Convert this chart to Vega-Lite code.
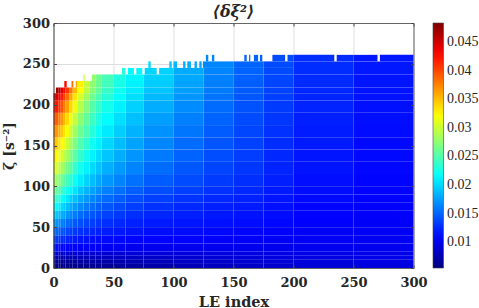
{"$schema":"https://vega.github.io/schema/vega-lite/v6.json","width":360,"height":245,"autosize":{"type":"none"},"padding":{"left":53.5,"top":23,"right":65.5,"bottom":40},"background":"white","config":{"view":{"stroke":null},"legend":{"labelFont":"Liberation Serif","labelFontSize":14,"labelColor":"#262626"},"axis":{"labelFont":"DejaVu Serif","labelFontWeight":"bold","labelFontSize":13,"labelColor":"#262626","titleFont":"DejaVu Serif","titleFontWeight":"bold","titleColor":"#262626","labelFlush":false}},"title":{"text":"⟨δξ²⟩","font":"DejaVu Serif","fontWeight":"bold","fontStyle":"italic","fontSize":16,"color":"#262626","offset":-3,"anchor":"middle"},"data":{"values":[
{"a":0,"b":2,"c":0,"d":5,"v":0.0058},{"a":0,"b":2,"c":5,"d":10,"v":0.0064},{"a":0,"b":2,"c":10,"d":15,"v":0.0076},{"a":0,"b":2,"c":15,"d":20,"v":0.009},{"a":0,"b":2,"c":20,"d":30,"v":0.0115},{"a":0,"b":2,"c":30,"d":40,"v":0.0135},{"a":0,"b":2,"c":40,"d":50,"v":0.0155},{"a":0,"b":2,"c":50,"d":60,"v":0.0175},{"a":0,"b":2,"c":60,"d":70,"v":0.0197},{"a":0,"b":2,"c":70,"d":80,"v":0.022},{"a":0,"b":2,"c":80,"d":90,"v":0.0243},{"a":0,"b":2,"c":90,"d":100,"v":0.0265},{"a":0,"b":2,"c":100,"d":115,"v":0.0288},{"a":0,"b":2,"c":115,"d":130,"v":0.0312},{"a":0,"b":2,"c":130,"d":145,"v":0.0332},{"a":0,"b":2,"c":145,"d":160,"v":0.0352},{"a":0,"b":2,"c":160,"d":175,"v":0.0373},{"a":0,"b":2,"c":175,"d":190,"v":0.0397},{"a":0,"b":2,"c":190,"d":205,"v":0.0427},{"a":0,"b":2,"c":205,"d":214,"v":0.0452},
{"a":2,"b":4,"c":0,"d":5,"v":0.0058},{"a":2,"b":4,"c":5,"d":10,"v":0.0064},{"a":2,"b":4,"c":10,"d":15,"v":0.0076},{"a":2,"b":4,"c":15,"d":20,"v":0.009},{"a":2,"b":4,"c":20,"d":30,"v":0.0114},{"a":2,"b":4,"c":30,"d":40,"v":0.0133},{"a":2,"b":4,"c":40,"d":50,"v":0.0152},{"a":2,"b":4,"c":50,"d":60,"v":0.0171},{"a":2,"b":4,"c":60,"d":70,"v":0.0193},{"a":2,"b":4,"c":70,"d":80,"v":0.0214},{"a":2,"b":4,"c":80,"d":90,"v":0.0236},{"a":2,"b":4,"c":90,"d":100,"v":0.0257},{"a":2,"b":4,"c":100,"d":115,"v":0.028},{"a":2,"b":4,"c":115,"d":130,"v":0.0305},{"a":2,"b":4,"c":130,"d":145,"v":0.0324},{"a":2,"b":4,"c":145,"d":160,"v":0.0344},{"a":2,"b":4,"c":160,"d":175,"v":0.0366},{"a":2,"b":4,"c":175,"d":190,"v":0.039},{"a":2,"b":4,"c":190,"d":205,"v":0.042},{"a":2,"b":4,"c":205,"d":214,"v":0.0446},{"a":2,"b":4,"c":214,"d":221,"v":0.0472},
{"a":4,"b":6,"c":0,"d":5,"v":0.0058},{"a":4,"b":6,"c":5,"d":10,"v":0.0064},{"a":4,"b":6,"c":10,"d":15,"v":0.0076},{"a":4,"b":6,"c":15,"d":20,"v":0.0089},{"a":4,"b":6,"c":20,"d":30,"v":0.0112},{"a":4,"b":6,"c":30,"d":40,"v":0.013},{"a":4,"b":6,"c":40,"d":50,"v":0.0148},{"a":4,"b":6,"c":50,"d":60,"v":0.0167},{"a":4,"b":6,"c":60,"d":70,"v":0.0187},{"a":4,"b":6,"c":70,"d":80,"v":0.0207},{"a":4,"b":6,"c":80,"d":90,"v":0.0228},{"a":4,"b":6,"c":90,"d":100,"v":0.0248},{"a":4,"b":6,"c":100,"d":115,"v":0.027},{"a":4,"b":6,"c":115,"d":130,"v":0.0295},{"a":4,"b":6,"c":130,"d":145,"v":0.0315},{"a":4,"b":6,"c":145,"d":160,"v":0.0334},{"a":4,"b":6,"c":160,"d":175,"v":0.0356},{"a":4,"b":6,"c":175,"d":190,"v":0.0378},{"a":4,"b":6,"c":190,"d":205,"v":0.0407},{"a":4,"b":6,"c":205,"d":214,"v":0.0434},{"a":4,"b":6,"c":214,"d":221,"v":0.0458},
{"a":6,"b":8,"c":0,"d":5,"v":0.0059},{"a":6,"b":8,"c":5,"d":10,"v":0.0064},{"a":6,"b":8,"c":10,"d":15,"v":0.0076},{"a":6,"b":8,"c":15,"d":20,"v":0.0088},{"a":6,"b":8,"c":20,"d":30,"v":0.0111},{"a":6,"b":8,"c":30,"d":40,"v":0.0127},{"a":6,"b":8,"c":40,"d":50,"v":0.0144},{"a":6,"b":8,"c":50,"d":60,"v":0.0162},{"a":6,"b":8,"c":60,"d":70,"v":0.0181},{"a":6,"b":8,"c":70,"d":80,"v":0.02},{"a":6,"b":8,"c":80,"d":90,"v":0.0219},{"a":6,"b":8,"c":90,"d":100,"v":0.0239},{"a":6,"b":8,"c":100,"d":115,"v":0.0261},{"a":6,"b":8,"c":115,"d":130,"v":0.0285},{"a":6,"b":8,"c":130,"d":145,"v":0.0305},{"a":6,"b":8,"c":145,"d":160,"v":0.0324},{"a":6,"b":8,"c":160,"d":175,"v":0.0345},{"a":6,"b":8,"c":175,"d":190,"v":0.0366},{"a":6,"b":8,"c":190,"d":205,"v":0.0394},{"a":6,"b":8,"c":205,"d":214,"v":0.042},{"a":6,"b":8,"c":214,"d":221,"v":0.0442},
{"a":8,"b":10,"c":0,"d":5,"v":0.0059},{"a":8,"b":10,"c":5,"d":10,"v":0.0065},{"a":8,"b":10,"c":10,"d":15,"v":0.0076},{"a":8,"b":10,"c":15,"d":20,"v":0.0088},{"a":8,"b":10,"c":20,"d":30,"v":0.011},{"a":8,"b":10,"c":30,"d":40,"v":0.0125},{"a":8,"b":10,"c":40,"d":50,"v":0.0141},{"a":8,"b":10,"c":50,"d":60,"v":0.0158},{"a":8,"b":10,"c":60,"d":70,"v":0.0176},{"a":8,"b":10,"c":70,"d":80,"v":0.0194},{"a":8,"b":10,"c":80,"d":90,"v":0.0212},{"a":8,"b":10,"c":90,"d":100,"v":0.0231},{"a":8,"b":10,"c":100,"d":115,"v":0.0252},{"a":8,"b":10,"c":115,"d":130,"v":0.0275},{"a":8,"b":10,"c":130,"d":145,"v":0.0294},{"a":8,"b":10,"c":145,"d":160,"v":0.0314},{"a":8,"b":10,"c":160,"d":175,"v":0.0334},{"a":8,"b":10,"c":175,"d":190,"v":0.0354},{"a":8,"b":10,"c":190,"d":205,"v":0.038},{"a":8,"b":10,"c":205,"d":214,"v":0.0404},{"a":8,"b":10,"c":214,"d":221,"v":0.0427},
{"a":10,"b":13,"c":0,"d":5,"v":0.0059},{"a":10,"b":13,"c":5,"d":10,"v":0.0065},{"a":10,"b":13,"c":10,"d":15,"v":0.0077},{"a":10,"b":13,"c":15,"d":20,"v":0.0088},{"a":10,"b":13,"c":20,"d":30,"v":0.0109},{"a":10,"b":13,"c":30,"d":40,"v":0.0123},{"a":10,"b":13,"c":40,"d":50,"v":0.0138},{"a":10,"b":13,"c":50,"d":60,"v":0.0154},{"a":10,"b":13,"c":60,"d":70,"v":0.0171},{"a":10,"b":13,"c":70,"d":80,"v":0.0188},{"a":10,"b":13,"c":80,"d":90,"v":0.0205},{"a":10,"b":13,"c":90,"d":100,"v":0.0223},{"a":10,"b":13,"c":100,"d":115,"v":0.0243},{"a":10,"b":13,"c":115,"d":130,"v":0.0264},{"a":10,"b":13,"c":130,"d":145,"v":0.0283},{"a":10,"b":13,"c":145,"d":160,"v":0.03},{"a":10,"b":13,"c":160,"d":175,"v":0.0319},{"a":10,"b":13,"c":175,"d":190,"v":0.0338},{"a":10,"b":13,"c":190,"d":205,"v":0.0362},{"a":10,"b":13,"c":205,"d":214,"v":0.0384},{"a":10,"b":13,"c":214,"d":221,"v":0.0407},
{"a":13,"b":16,"c":0,"d":5,"v":0.006},{"a":13,"b":16,"c":5,"d":10,"v":0.0066},{"a":13,"b":16,"c":10,"d":15,"v":0.0077},{"a":13,"b":16,"c":15,"d":20,"v":0.0088},{"a":13,"b":16,"c":20,"d":30,"v":0.0108},{"a":13,"b":16,"c":30,"d":40,"v":0.0121},{"a":13,"b":16,"c":40,"d":50,"v":0.0135},{"a":13,"b":16,"c":50,"d":60,"v":0.015},{"a":13,"b":16,"c":60,"d":70,"v":0.0166},{"a":13,"b":16,"c":70,"d":80,"v":0.0181},{"a":13,"b":16,"c":80,"d":90,"v":0.0197},{"a":13,"b":16,"c":90,"d":100,"v":0.0214},{"a":13,"b":16,"c":100,"d":115,"v":0.0232},{"a":13,"b":16,"c":115,"d":130,"v":0.0251},{"a":13,"b":16,"c":130,"d":145,"v":0.0268},{"a":13,"b":16,"c":145,"d":160,"v":0.0284},{"a":13,"b":16,"c":160,"d":175,"v":0.0301},{"a":13,"b":16,"c":175,"d":190,"v":0.0318},{"a":13,"b":16,"c":190,"d":205,"v":0.0339},{"a":13,"b":16,"c":205,"d":214,"v":0.0358},{"a":13,"b":16,"c":214,"d":221,"v":0.038},
{"a":16,"b":20,"c":0,"d":5,"v":0.0061},{"a":16,"b":20,"c":5,"d":10,"v":0.0067},{"a":16,"b":20,"c":10,"d":15,"v":0.0077},{"a":16,"b":20,"c":15,"d":20,"v":0.0088},{"a":16,"b":20,"c":20,"d":30,"v":0.0107},{"a":16,"b":20,"c":30,"d":40,"v":0.0119},{"a":16,"b":20,"c":40,"d":50,"v":0.0132},{"a":16,"b":20,"c":50,"d":60,"v":0.0146},{"a":16,"b":20,"c":60,"d":70,"v":0.016},{"a":16,"b":20,"c":70,"d":80,"v":0.0174},{"a":16,"b":20,"c":80,"d":90,"v":0.0189},{"a":16,"b":20,"c":90,"d":100,"v":0.0204},{"a":16,"b":20,"c":100,"d":115,"v":0.022},{"a":16,"b":20,"c":115,"d":130,"v":0.0237},{"a":16,"b":20,"c":130,"d":145,"v":0.0252},{"a":16,"b":20,"c":145,"d":160,"v":0.0267},{"a":16,"b":20,"c":160,"d":175,"v":0.0282},{"a":16,"b":20,"c":175,"d":190,"v":0.0297},{"a":16,"b":20,"c":190,"d":205,"v":0.0316},{"a":16,"b":20,"c":205,"d":214,"v":0.0333},{"a":16,"b":20,"c":214,"d":221,"v":0.0352},
{"a":20,"b":25,"c":0,"d":5,"v":0.0061},{"a":20,"b":25,"c":5,"d":10,"v":0.0068},{"a":20,"b":25,"c":10,"d":15,"v":0.0078},{"a":20,"b":25,"c":15,"d":20,"v":0.0088},{"a":20,"b":25,"c":20,"d":30,"v":0.0106},{"a":20,"b":25,"c":30,"d":40,"v":0.0117},{"a":20,"b":25,"c":40,"d":50,"v":0.0129},{"a":20,"b":25,"c":50,"d":60,"v":0.0142},{"a":20,"b":25,"c":60,"d":70,"v":0.0154},{"a":20,"b":25,"c":70,"d":80,"v":0.0167},{"a":20,"b":25,"c":80,"d":90,"v":0.018},{"a":20,"b":25,"c":90,"d":100,"v":0.0193},{"a":20,"b":25,"c":100,"d":115,"v":0.0208},{"a":20,"b":25,"c":115,"d":130,"v":0.0223},{"a":20,"b":25,"c":130,"d":145,"v":0.0237},{"a":20,"b":25,"c":145,"d":160,"v":0.0249},{"a":20,"b":25,"c":160,"d":175,"v":0.0261},{"a":20,"b":25,"c":175,"d":190,"v":0.0274},{"a":20,"b":25,"c":190,"d":205,"v":0.0291},{"a":20,"b":25,"c":205,"d":214,"v":0.0305},{"a":20,"b":25,"c":214,"d":221,"v":0.0322},
{"a":25,"b":30,"c":0,"d":5,"v":0.0062},{"a":25,"b":30,"c":5,"d":10,"v":0.0069},{"a":25,"b":30,"c":10,"d":15,"v":0.0079},{"a":25,"b":30,"c":15,"d":20,"v":0.0089},{"a":25,"b":30,"c":20,"d":30,"v":0.0105},{"a":25,"b":30,"c":30,"d":40,"v":0.0115},{"a":25,"b":30,"c":40,"d":50,"v":0.0126},{"a":25,"b":30,"c":50,"d":60,"v":0.0137},{"a":25,"b":30,"c":60,"d":70,"v":0.0148},{"a":25,"b":30,"c":70,"d":80,"v":0.016},{"a":25,"b":30,"c":80,"d":90,"v":0.0172},{"a":25,"b":30,"c":90,"d":100,"v":0.0184},{"a":25,"b":30,"c":100,"d":115,"v":0.0197},{"a":25,"b":30,"c":115,"d":130,"v":0.0211},{"a":25,"b":30,"c":130,"d":145,"v":0.0223},{"a":25,"b":30,"c":145,"d":160,"v":0.0235},{"a":25,"b":30,"c":160,"d":175,"v":0.0246},{"a":25,"b":30,"c":175,"d":190,"v":0.0257},{"a":25,"b":30,"c":190,"d":205,"v":0.027},{"a":25,"b":30,"c":205,"d":214,"v":0.0282},{"a":25,"b":30,"c":214,"d":221,"v":0.0294},
{"a":30,"b":35,"c":0,"d":5,"v":0.0063},{"a":30,"b":35,"c":5,"d":10,"v":0.007},{"a":30,"b":35,"c":10,"d":15,"v":0.008},{"a":30,"b":35,"c":15,"d":20,"v":0.0089},{"a":30,"b":35,"c":20,"d":30,"v":0.0104},{"a":30,"b":35,"c":30,"d":40,"v":0.0114},{"a":30,"b":35,"c":40,"d":50,"v":0.0124},{"a":30,"b":35,"c":50,"d":60,"v":0.0134},{"a":30,"b":35,"c":60,"d":70,"v":0.0144},{"a":30,"b":35,"c":70,"d":80,"v":0.0154},{"a":30,"b":35,"c":80,"d":90,"v":0.0165},{"a":30,"b":35,"c":90,"d":100,"v":0.0176},{"a":30,"b":35,"c":100,"d":115,"v":0.0188},{"a":30,"b":35,"c":115,"d":130,"v":0.02},{"a":30,"b":35,"c":130,"d":145,"v":0.0211},{"a":30,"b":35,"c":145,"d":160,"v":0.0221},{"a":30,"b":35,"c":160,"d":175,"v":0.0231},{"a":30,"b":35,"c":175,"d":190,"v":0.0241},{"a":30,"b":35,"c":190,"d":205,"v":0.0252},{"a":30,"b":35,"c":205,"d":214,"v":0.0262},{"a":30,"b":35,"c":214,"d":221,"v":0.0272},
{"a":35,"b":40,"c":0,"d":5,"v":0.0064},{"a":35,"b":40,"c":5,"d":10,"v":0.0071},{"a":35,"b":40,"c":10,"d":15,"v":0.0081},{"a":35,"b":40,"c":15,"d":20,"v":0.0089},{"a":35,"b":40,"c":20,"d":30,"v":0.0104},{"a":35,"b":40,"c":30,"d":40,"v":0.0113},{"a":35,"b":40,"c":40,"d":50,"v":0.0122},{"a":35,"b":40,"c":50,"d":60,"v":0.0131},{"a":35,"b":40,"c":60,"d":70,"v":0.014},{"a":35,"b":40,"c":70,"d":80,"v":0.0149},{"a":35,"b":40,"c":80,"d":90,"v":0.0159},{"a":35,"b":40,"c":90,"d":100,"v":0.0169},{"a":35,"b":40,"c":100,"d":115,"v":0.018},{"a":35,"b":40,"c":115,"d":130,"v":0.0191},{"a":35,"b":40,"c":130,"d":145,"v":0.0201},{"a":35,"b":40,"c":145,"d":160,"v":0.021},{"a":35,"b":40,"c":160,"d":175,"v":0.0219},{"a":35,"b":40,"c":175,"d":190,"v":0.0228},{"a":35,"b":40,"c":190,"d":205,"v":0.0238},{"a":35,"b":40,"c":205,"d":214,"v":0.0247},{"a":35,"b":40,"c":214,"d":221,"v":0.0256},
{"a":40,"b":50,"c":0,"d":5,"v":0.0065},{"a":40,"b":50,"c":5,"d":10,"v":0.0072},{"a":40,"b":50,"c":10,"d":15,"v":0.0082},{"a":40,"b":50,"c":15,"d":20,"v":0.009},{"a":40,"b":50,"c":20,"d":30,"v":0.0103},{"a":40,"b":50,"c":30,"d":40,"v":0.0112},{"a":40,"b":50,"c":40,"d":50,"v":0.012},{"a":40,"b":50,"c":50,"d":60,"v":0.0128},{"a":40,"b":50,"c":60,"d":70,"v":0.0136},{"a":40,"b":50,"c":70,"d":80,"v":0.0144},{"a":40,"b":50,"c":80,"d":90,"v":0.0153},{"a":40,"b":50,"c":90,"d":100,"v":0.0162},{"a":40,"b":50,"c":100,"d":115,"v":0.0172},{"a":40,"b":50,"c":115,"d":130,"v":0.0182},{"a":40,"b":50,"c":130,"d":145,"v":0.0191},{"a":40,"b":50,"c":145,"d":160,"v":0.0199},{"a":40,"b":50,"c":160,"d":175,"v":0.0207},{"a":40,"b":50,"c":175,"d":190,"v":0.0215},{"a":40,"b":50,"c":190,"d":205,"v":0.0224},{"a":40,"b":50,"c":205,"d":214,"v":0.0232},{"a":40,"b":50,"c":214,"d":221,"v":0.0239},
{"a":50,"b":60,"c":0,"d":5,"v":0.0067},{"a":50,"b":60,"c":5,"d":10,"v":0.0074},{"a":50,"b":60,"c":10,"d":15,"v":0.0083},{"a":50,"b":60,"c":15,"d":20,"v":0.0091},{"a":50,"b":60,"c":20,"d":30,"v":0.0103},{"a":50,"b":60,"c":30,"d":40,"v":0.0111},{"a":50,"b":60,"c":40,"d":50,"v":0.0118},{"a":50,"b":60,"c":50,"d":60,"v":0.0125},{"a":50,"b":60,"c":60,"d":70,"v":0.0132},{"a":50,"b":60,"c":70,"d":80,"v":0.0139},{"a":50,"b":60,"c":80,"d":90,"v":0.0147},{"a":50,"b":60,"c":90,"d":100,"v":0.0155},{"a":50,"b":60,"c":100,"d":115,"v":0.0164},{"a":50,"b":60,"c":115,"d":130,"v":0.0173},{"a":50,"b":60,"c":130,"d":145,"v":0.0181},{"a":50,"b":60,"c":145,"d":160,"v":0.0188},{"a":50,"b":60,"c":160,"d":175,"v":0.0195},{"a":50,"b":60,"c":175,"d":190,"v":0.0202},{"a":50,"b":60,"c":190,"d":205,"v":0.021},{"a":50,"b":60,"c":205,"d":214,"v":0.0216},{"a":50,"b":60,"c":214,"d":221,"v":0.0222},
{"a":60,"b":75,"c":0,"d":5,"v":0.0069},{"a":60,"b":75,"c":5,"d":10,"v":0.0076},{"a":60,"b":75,"c":10,"d":15,"v":0.0084},{"a":60,"b":75,"c":15,"d":20,"v":0.0092},{"a":60,"b":75,"c":20,"d":30,"v":0.0102},{"a":60,"b":75,"c":30,"d":40,"v":0.011},{"a":60,"b":75,"c":40,"d":50,"v":0.0116},{"a":60,"b":75,"c":50,"d":60,"v":0.0122},{"a":60,"b":75,"c":60,"d":70,"v":0.0128},{"a":60,"b":75,"c":70,"d":80,"v":0.0134},{"a":60,"b":75,"c":80,"d":90,"v":0.0141},{"a":60,"b":75,"c":90,"d":100,"v":0.0148},{"a":60,"b":75,"c":100,"d":115,"v":0.0156},{"a":60,"b":75,"c":115,"d":130,"v":0.0164},{"a":60,"b":75,"c":130,"d":145,"v":0.0171},{"a":60,"b":75,"c":145,"d":160,"v":0.0177},{"a":60,"b":75,"c":160,"d":175,"v":0.0183},{"a":60,"b":75,"c":175,"d":190,"v":0.0189},{"a":60,"b":75,"c":190,"d":205,"v":0.0196},{"a":60,"b":75,"c":205,"d":214,"v":0.0202},{"a":60,"b":75,"c":214,"d":221,"v":0.0207},
{"a":75,"b":100,"c":0,"d":5,"v":0.0073},{"a":75,"b":100,"c":5,"d":10,"v":0.0079},{"a":75,"b":100,"c":10,"d":15,"v":0.0086},{"a":75,"b":100,"c":15,"d":20,"v":0.0093},{"a":75,"b":100,"c":20,"d":30,"v":0.0102},{"a":75,"b":100,"c":30,"d":40,"v":0.0109},{"a":75,"b":100,"c":40,"d":50,"v":0.0114},{"a":75,"b":100,"c":50,"d":60,"v":0.0119},{"a":75,"b":100,"c":60,"d":70,"v":0.0124},{"a":75,"b":100,"c":70,"d":80,"v":0.0129},{"a":75,"b":100,"c":80,"d":90,"v":0.0135},{"a":75,"b":100,"c":90,"d":100,"v":0.0141},{"a":75,"b":100,"c":100,"d":115,"v":0.0147},{"a":75,"b":100,"c":115,"d":130,"v":0.0154},{"a":75,"b":100,"c":130,"d":145,"v":0.016},{"a":75,"b":100,"c":145,"d":160,"v":0.0165},{"a":75,"b":100,"c":160,"d":175,"v":0.017},{"a":75,"b":100,"c":175,"d":190,"v":0.0175},{"a":75,"b":100,"c":190,"d":205,"v":0.0181},{"a":75,"b":100,"c":205,"d":214,"v":0.0186},{"a":75,"b":100,"c":214,"d":221,"v":0.0191},
{"a":100,"b":125,"c":0,"d":5,"v":0.0078},{"a":100,"b":125,"c":5,"d":10,"v":0.0083},{"a":100,"b":125,"c":10,"d":15,"v":0.0088},{"a":100,"b":125,"c":15,"d":20,"v":0.0094},{"a":100,"b":125,"c":20,"d":30,"v":0.0102},{"a":100,"b":125,"c":30,"d":40,"v":0.0108},{"a":100,"b":125,"c":40,"d":50,"v":0.0113},{"a":100,"b":125,"c":50,"d":60,"v":0.0117},{"a":100,"b":125,"c":60,"d":70,"v":0.0121},{"a":100,"b":125,"c":70,"d":80,"v":0.0125},{"a":100,"b":125,"c":80,"d":90,"v":0.013},{"a":100,"b":125,"c":90,"d":100,"v":0.0135},{"a":100,"b":125,"c":100,"d":115,"v":0.014},{"a":100,"b":125,"c":115,"d":130,"v":0.0145},{"a":100,"b":125,"c":130,"d":145,"v":0.015},{"a":100,"b":125,"c":145,"d":160,"v":0.0154},{"a":100,"b":125,"c":160,"d":175,"v":0.0158},{"a":100,"b":125,"c":175,"d":190,"v":0.0162},{"a":100,"b":125,"c":190,"d":205,"v":0.0167},{"a":100,"b":125,"c":205,"d":214,"v":0.0171},{"a":100,"b":125,"c":214,"d":221,"v":0.0175},
{"a":125,"b":150,"c":0,"d":5,"v":0.0082},{"a":125,"b":150,"c":5,"d":10,"v":0.0086},{"a":125,"b":150,"c":10,"d":15,"v":0.0091},{"a":125,"b":150,"c":15,"d":20,"v":0.0096},{"a":125,"b":150,"c":20,"d":30,"v":0.0102},{"a":125,"b":150,"c":30,"d":40,"v":0.0107},{"a":125,"b":150,"c":40,"d":50,"v":0.0111},{"a":125,"b":150,"c":50,"d":60,"v":0.0115},{"a":125,"b":150,"c":60,"d":70,"v":0.0118},{"a":125,"b":150,"c":70,"d":80,"v":0.0121},{"a":125,"b":150,"c":80,"d":90,"v":0.0125},{"a":125,"b":150,"c":90,"d":100,"v":0.0129},{"a":125,"b":150,"c":100,"d":115,"v":0.0133},{"a":125,"b":150,"c":115,"d":130,"v":0.0137},{"a":125,"b":150,"c":130,"d":145,"v":0.0141},{"a":125,"b":150,"c":145,"d":160,"v":0.0144},{"a":125,"b":150,"c":160,"d":175,"v":0.0147},{"a":125,"b":150,"c":175,"d":190,"v":0.015},{"a":125,"b":150,"c":190,"d":205,"v":0.0154},{"a":125,"b":150,"c":205,"d":214,"v":0.0157},{"a":125,"b":150,"c":214,"d":221,"v":0.016},
{"a":150,"b":175,"c":0,"d":5,"v":0.0085},{"a":150,"b":175,"c":5,"d":10,"v":0.0089},{"a":150,"b":175,"c":10,"d":15,"v":0.0093},{"a":150,"b":175,"c":15,"d":20,"v":0.0097},{"a":150,"b":175,"c":20,"d":30,"v":0.0102},{"a":150,"b":175,"c":30,"d":40,"v":0.0106},{"a":150,"b":175,"c":40,"d":50,"v":0.011},{"a":150,"b":175,"c":50,"d":60,"v":0.0113},{"a":150,"b":175,"c":60,"d":70,"v":0.0116},{"a":150,"b":175,"c":70,"d":80,"v":0.0119},{"a":150,"b":175,"c":80,"d":90,"v":0.0122},{"a":150,"b":175,"c":90,"d":100,"v":0.0125},{"a":150,"b":175,"c":100,"d":115,"v":0.0128},{"a":150,"b":175,"c":115,"d":130,"v":0.0131},{"a":150,"b":175,"c":130,"d":145,"v":0.0134},{"a":150,"b":175,"c":145,"d":160,"v":0.0136},{"a":150,"b":175,"c":160,"d":175,"v":0.0138},{"a":150,"b":175,"c":175,"d":190,"v":0.014},{"a":150,"b":175,"c":190,"d":205,"v":0.0143},{"a":150,"b":175,"c":205,"d":214,"v":0.0145},{"a":150,"b":175,"c":214,"d":221,"v":0.0147},
{"a":175,"b":200,"c":0,"d":5,"v":0.0088},{"a":175,"b":200,"c":5,"d":10,"v":0.0091},{"a":175,"b":200,"c":10,"d":15,"v":0.0095},{"a":175,"b":200,"c":15,"d":20,"v":0.0098},{"a":175,"b":200,"c":20,"d":30,"v":0.0102},{"a":175,"b":200,"c":30,"d":40,"v":0.0105},{"a":175,"b":200,"c":40,"d":50,"v":0.0108},{"a":175,"b":200,"c":50,"d":60,"v":0.0111},{"a":175,"b":200,"c":60,"d":70,"v":0.0113},{"a":175,"b":200,"c":70,"d":80,"v":0.0115},{"a":175,"b":200,"c":80,"d":90,"v":0.0117},{"a":175,"b":200,"c":90,"d":100,"v":0.0119},{"a":175,"b":200,"c":100,"d":115,"v":0.0121},{"a":175,"b":200,"c":115,"d":130,"v":0.0123},{"a":175,"b":200,"c":130,"d":145,"v":0.0125},{"a":175,"b":200,"c":145,"d":160,"v":0.0127},{"a":175,"b":200,"c":160,"d":175,"v":0.0129},{"a":175,"b":200,"c":175,"d":190,"v":0.0131},{"a":175,"b":200,"c":190,"d":205,"v":0.0133},{"a":175,"b":200,"c":205,"d":214,"v":0.0135},{"a":175,"b":200,"c":214,"d":221,"v":0.0136},
{"a":200,"b":250,"c":0,"d":5,"v":0.0092},{"a":200,"b":250,"c":5,"d":10,"v":0.0094},{"a":200,"b":250,"c":10,"d":15,"v":0.0097},{"a":200,"b":250,"c":15,"d":20,"v":0.0099},{"a":200,"b":250,"c":20,"d":30,"v":0.0102},{"a":200,"b":250,"c":30,"d":40,"v":0.0104},{"a":200,"b":250,"c":40,"d":50,"v":0.0106},{"a":200,"b":250,"c":50,"d":60,"v":0.0108},{"a":200,"b":250,"c":60,"d":70,"v":0.0109},{"a":200,"b":250,"c":70,"d":80,"v":0.011},{"a":200,"b":250,"c":80,"d":90,"v":0.0112},{"a":200,"b":250,"c":90,"d":100,"v":0.0113},{"a":200,"b":250,"c":100,"d":115,"v":0.0114},{"a":200,"b":250,"c":115,"d":130,"v":0.0116},{"a":200,"b":250,"c":130,"d":145,"v":0.0117},{"a":200,"b":250,"c":145,"d":160,"v":0.0119},{"a":200,"b":250,"c":160,"d":175,"v":0.012},{"a":200,"b":250,"c":175,"d":190,"v":0.0121},{"a":200,"b":250,"c":190,"d":205,"v":0.0123},{"a":200,"b":250,"c":205,"d":214,"v":0.0124},{"a":200,"b":250,"c":214,"d":221,"v":0.0125},
{"a":250,"b":300,"c":0,"d":5,"v":0.0095},{"a":250,"b":300,"c":5,"d":10,"v":0.0097},{"a":250,"b":300,"c":10,"d":15,"v":0.0099},{"a":250,"b":300,"c":15,"d":20,"v":0.01},{"a":250,"b":300,"c":20,"d":30,"v":0.0102},{"a":250,"b":300,"c":30,"d":40,"v":0.0103},{"a":250,"b":300,"c":40,"d":50,"v":0.0105},{"a":250,"b":300,"c":50,"d":60,"v":0.0106},{"a":250,"b":300,"c":60,"d":70,"v":0.0107},{"a":250,"b":300,"c":70,"d":80,"v":0.0107},{"a":250,"b":300,"c":80,"d":90,"v":0.0108},{"a":250,"b":300,"c":90,"d":100,"v":0.0109},{"a":250,"b":300,"c":100,"d":115,"v":0.011},{"a":250,"b":300,"c":115,"d":130,"v":0.0111},{"a":250,"b":300,"c":130,"d":145,"v":0.0112},{"a":250,"b":300,"c":145,"d":160,"v":0.0112},{"a":250,"b":300,"c":160,"d":175,"v":0.0113},{"a":250,"b":300,"c":175,"d":190,"v":0.0114},{"a":250,"b":300,"c":190,"d":205,"v":0.0115},{"a":250,"b":300,"c":205,"d":214,"v":0.0116},{"a":250,"b":300,"c":214,"d":221,"v":0.0116},
{"a":9,"b":11,"c":221,"d":229,"v":0.0428},{"a":15,"b":16.5,"c":221,"d":229,"v":0.0384},{"a":18.5,"b":20,"c":221,"d":229,"v":0.0358},{"a":20,"b":25,"c":221,"d":229,"v":0.0328},{"a":25,"b":30,"c":221,"d":229,"v":0.0298},{"a":30,"b":35,"c":221,"d":229,"v":0.0276},{"a":35,"b":40,"c":221,"d":229,"v":0.026},{"a":40,"b":50,"c":221,"d":229,"v":0.0243},{"a":50,"b":60,"c":221,"d":229,"v":0.0226},{"a":60,"b":75,"c":221,"d":229,"v":0.021},{"a":75,"b":100,"c":221,"d":229,"v":0.0194},{"a":100,"b":125,"c":221,"d":229,"v":0.0177},{"a":125,"b":150,"c":221,"d":229,"v":0.0162},{"a":150,"b":175,"c":221,"d":229,"v":0.0148},{"a":175,"b":200,"c":221,"d":229,"v":0.0137},{"a":200,"b":250,"c":221,"d":229,"v":0.0126},{"a":250,"b":300,"c":221,"d":229,"v":0.0117},
{"a":25,"b":26,"c":229,"d":237,"v":0.03},{"a":32,"b":35,"c":229,"d":237,"v":0.0278},{"a":35,"b":40,"c":229,"d":237,"v":0.0262},{"a":40,"b":50,"c":229,"d":237,"v":0.0245},{"a":50,"b":60,"c":229,"d":237,"v":0.0228},{"a":60,"b":75,"c":229,"d":237,"v":0.0212},{"a":75,"b":100,"c":229,"d":237,"v":0.0196},{"a":100,"b":125,"c":229,"d":237,"v":0.0179},{"a":125,"b":150,"c":229,"d":237,"v":0.0163},{"a":150,"b":175,"c":229,"d":237,"v":0.0149},{"a":175,"b":200,"c":229,"d":237,"v":0.0138},{"a":200,"b":250,"c":229,"d":237,"v":0.0126},{"a":250,"b":300,"c":229,"d":237,"v":0.0117},
{"a":57,"b":60,"c":237,"d":245,"v":0.023},{"a":62,"b":67,"c":237,"d":245,"v":0.0214},{"a":69,"b":74,"c":237,"d":245,"v":0.0213},{"a":76,"b":86,"c":237,"d":245,"v":0.0198},{"a":88,"b":100,"c":237,"d":245,"v":0.0197},{"a":100,"b":125,"c":237,"d":245,"v":0.018},{"a":125,"b":150,"c":237,"d":245,"v":0.0164},{"a":150,"b":175,"c":237,"d":245,"v":0.015},{"a":175,"b":200,"c":237,"d":245,"v":0.0139},{"a":200,"b":250,"c":237,"d":245,"v":0.0127},{"a":250,"b":300,"c":237,"d":245,"v":0.0118},
{"a":79,"b":81,"c":245,"d":253,"v":0.02},{"a":96.5,"b":98.5,"c":245,"d":253,"v":0.0192},{"a":100,"b":103,"c":245,"d":253,"v":0.0185},{"a":108,"b":110,"c":245,"d":253,"v":0.0182},{"a":111.5,"b":114.5,"c":245,"d":253,"v":0.0181},{"a":117.5,"b":119.5,"c":245,"d":253,"v":0.0179},{"a":121.5,"b":123.5,"c":245,"d":253,"v":0.0178},{"a":124.5,"b":150,"c":245,"d":253,"v":0.0165},{"a":150,"b":175,"c":245,"d":253,"v":0.0151},{"a":175,"b":200,"c":245,"d":253,"v":0.014},{"a":200,"b":250,"c":245,"d":253,"v":0.0127},{"a":250,"b":300,"c":245,"d":253,"v":0.0118},
{"a":127,"b":129,"c":253,"d":261,"v":0.0165},{"a":132,"b":134,"c":253,"d":261,"v":0.0164},{"a":159,"b":161,"c":253,"d":261,"v":0.0151},{"a":163,"b":164,"c":253,"d":261,"v":0.015},{"a":167,"b":170.5,"c":253,"d":261,"v":0.015},{"a":172,"b":174,"c":253,"d":261,"v":0.015},{"a":182.4,"b":193,"c":253,"d":261,"v":0.014},{"a":195,"b":200,"c":253,"d":261,"v":0.014},{"a":200,"b":234,"c":253,"d":261,"v":0.0128},{"a":236,"b":250,"c":253,"d":261,"v":0.0127},{"a":250,"b":270,"c":253,"d":261,"v":0.0118},{"a":272,"b":300,"c":253,"d":261,"v":0.0118}
]},"resolve":{"axis":{"x":"independent","y":"independent"}},"layer":[{"transform":[{"filter":"datum.a==0&&datum.c==0"}],"mark":{"type":"rect","opacity":0},"encoding":{"x":{"field":"a","type":"quantitative","scale":{"domain":[0,300],"nice":false},"axis":{"orient":"bottom","values":[0,50,100,150,200,250,300],"title":"LE index","titleFontSize":14.5,"titlePadding":6,"grid":true,"gridColor":"#dddddd","domain":false,"ticks":false,"labelPadding":8,"zindex":0}},"x2":{"field":"b"},"y":{"field":"c","type":"quantitative","scale":{"domain":[0,300],"nice":false},"axis":{"orient":"left","values":[0,50,100,150,200,250,300],"title":"ζ [s⁻²]","titleFontSize":14,"titlePadding":6,"grid":true,"gridColor":"#dddddd","domain":false,"ticks":false,"labelPadding":4,"zindex":0}},"y2":{"field":"d"}}},{"mark":{"type":"rect"},"encoding":{"x":{"field":"a","type":"quantitative","axis":{"orient":"top","values":[0,50,100,150,200,250,300],"title":null,"labels":false,"grid":false,"domain":true,"domainColor":"#666666","domainWidth":1,"ticks":true,"tickSize":-3,"tickColor":"#444444","zindex":1}},"x2":{"field":"b"},"y":{"field":"c","type":"quantitative","axis":{"orient":"right","values":[0,50,100,150,200,250,300],"title":null,"labels":false,"grid":false,"domain":true,"domainColor":"#666666","domainWidth":1,"ticks":true,"tickSize":-3,"tickColor":"#444444","zindex":1}},"y2":{"field":"d"},"color":{"field":"v","type":"quantitative","scale":{"domain":[0.0055,0.01085,0.02155,0.03225,0.04295,0.0483],"range":["#00007f","#0000ff","#00ffff","#ffff00","#ff0000","#7f0000"],"interpolate":"rgb"},"legend":{"type":"gradient","orient":"none","legendX":379.5,"legendY":0,"title":null,"gradientLength":245,"gradientThickness":10.5,"gradientStrokeColor":"#444444","gradientStrokeWidth":0.6,"values":[0.01,0.015,0.02,0.025,0.03,0.035,0.04,0.045],"labelExpr":"format(datum.value,'~g')","labelFont":"Liberation Serif","labelFontSize":14,"labelColor":"#262626","labelOffset":3.5,"encode":{"labels":{"update":{"font":{"value":"Liberation Serif"},"fontSize":{"value":14}}}}}}}},{"transform":[{"filter":"datum.a==0&&datum.c==0"}],"mark":{"type":"rect","opacity":0},"encoding":{"x":{"field":"a","type":"quantitative","axis":{"orient":"bottom","values":[0,50,100,150,200,250,300],"title":null,"labels":false,"grid":false,"domain":true,"domainColor":"#666666","domainWidth":1,"ticks":true,"tickSize":-3,"tickColor":"#444444","zindex":1}},"x2":{"field":"b"},"y":{"field":"c","type":"quantitative","axis":{"orient":"left","values":[0,50,100,150,200,250,300],"title":null,"labels":false,"grid":false,"domain":true,"domainColor":"#444444","domainWidth":1,"ticks":true,"tickSize":-3,"tickColor":"#444444","zindex":1}},"y2":{"field":"d"}}}]}
